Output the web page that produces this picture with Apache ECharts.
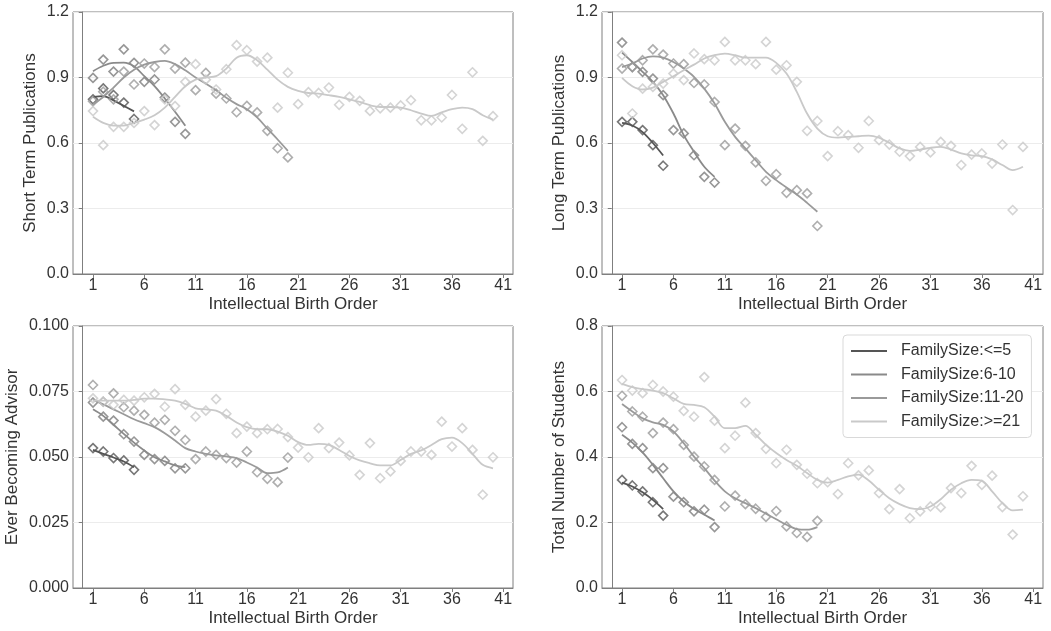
<!DOCTYPE html>
<html><head><meta charset="utf-8">
<script src="https://cdn.jsdelivr.net/npm/echarts@6/dist/echarts.min.js"></script>
<style>html,body{margin:0;padding:0;background:#fff}#c{width:1051px;height:631px}</style>
</head><body><div id="c"></div>
<script>
// Intellectual birth order positions
const ORDER = [1,2,3,4,5,6,7,8,9,10,11,12,13,14,15,16,17,18,19,20,21,22,23,24,25,26,27,28,29,30,31,32,33,34,35,36,37,38,39,40];
const X_TICKS = [1,6,11,16,21,26,31,36,41];
const FAMILIES = ['FamilySize:<=5','FamilySize:6-10','FamilySize:11-20','FamilySize:>=21'];
const PANEL_TITLES = ['Short Term Publications','Long Term Publications','Ever Becoming Advisor','Total Number of Students'];
const X_TITLE = 'Intellectual Birth Order';
const Y_TICKS_STP = [0,0.3,0.6,0.9,1.2];
const Y_TICKS_LTP = [0,0.3,0.6,0.9,1.2];
const Y_TICKS_EBA = [0,0.025,0.05,0.075,0.1];
const Y_TICKS_TNS = [0,0.2,0.4,0.6,0.8];

// Short term publications
const stp_pts_5  = [0.80,0.85,0.82,0.785,0.71];
const stp_fit_5  = [0.81,0.815,0.795,0.77,0.745];
const stp_pts_10 = [0.898,0.982,0.927,1.029,0.967,0.880,0.891,0.808,0.697,0.642];
const stp_fit_10 = [0.929,0.954,0.967,0.968,0.951,0.906,0.86,0.804,0.743,0.679];
const stp_pts_20 = [0.791,0.835,0.80,0.927,0.868,0.964,0.948,1.029,0.941,0.968,0.842,0.921,0.826,0.804,0.741,0.770,0.740,0.656,0.576,0.534];
const stp_fit_20 = [0.778,0.811,0.854,0.9,0.936,0.959,0.971,0.976,0.961,0.933,0.9,0.872,0.842,0.807,0.778,0.755,0.717,0.666,0.616,0.564];
const stp_pts_21 = [0.746,0.590,0.674,0.674,0.692,0.746,0.682,0.80,0.769,0.880,0.961,0.89,0.845,0.938,1.048,1.025,0.973,0.991,0.762,0.922,0.778,0.833,0.829,0.854,0.775,0.811,0.793,0.747,0.759,0.762,0.772,0.796,0.704,0.704,0.717,0.820,0.665,0.924,0.610,0.723];
const stp_fit_21 = [0.72,0.692,0.680,0.68,0.692,0.707,0.727,0.762,0.811,0.86,0.89,0.9,0.906,0.941,0.991,1.002,0.979,0.936,0.89,0.857,0.839,0.829,0.826,0.819,0.811,0.80,0.788,0.773,0.765,0.765,0.762,0.750,0.735,0.724,0.740,0.755,0.762,0.755,0.727,0.707];

// Long term publications
const ltp_pts_5  = [0.697,0.697,0.659,0.590,0.496];
const ltp_fit_5  = [0.692,0.68,0.65,0.60,0.543];
const ltp_pts_10 = [1.060,0.948,0.926,0.895,0.819,0.659,0.644,0.544,0.445,0.419];
const ltp_fit_10 = [1.014,0.971,0.926,0.88,0.819,0.735,0.636,0.56,0.491,0.445];
const ltp_pts_20 = [0.941,0.948,0.979,1.029,1.005,0.964,0.961,0.875,0.868,0.788,0.590,0.666,0.587,0.511,0.427,0.457,0.372,0.384,0.369,0.220];
const ltp_fit_20 = [0.948,0.964,0.987,0.997,0.991,0.971,0.941,0.903,0.849,0.781,0.697,0.628,0.575,0.521,0.468,0.43,0.396,0.364,0.326,0.285];
const ltp_pts_21 = [1.002,0.735,0.849,0.857,0.872,0.918,0.888,1.010,0.984,0.979,1.063,0.979,0.979,0.961,1.063,0.936,0.956,0.880,0.656,0.701,0.540,0.654,0.636,0.578,0.701,0.613,0.593,0.560,0.540,0.582,0.557,0.605,0.587,0.499,0.547,0.552,0.506,0.593,0.293,0.582];
const ltp_fit_21 = [0.898,0.86,0.845,0.854,0.88,0.906,0.933,0.959,0.987,1.002,1.009,1.002,0.991,0.991,0.991,0.967,0.918,0.834,0.735,0.666,0.631,0.625,0.628,0.631,0.634,0.624,0.601,0.575,0.564,0.570,0.578,0.582,0.570,0.552,0.543,0.540,0.525,0.499,0.476,0.491];

// Ever becoming advisor
const eba_pts_5  = [0.0534,0.0521,0.0496,0.0487,0.0451];
const eba_fit_5  = [0.0527,0.0512,0.0498,0.0483,0.0461];
const eba_pts_10 = [0.0708,0.0654,0.0639,0.0587,0.0559,0.0508,0.0492,0.0485,0.0457,0.0457];
const eba_fit_10 = [0.0682,0.0657,0.0623,0.0588,0.0555,0.0525,0.0499,0.0483,0.0468,0.0461];
const eba_pts_20 = [0.0775,0.0711,0.0743,0.069,0.0677,0.0661,0.0631,0.0642,0.060,0.0565,0.0492,0.0521,0.0508,0.0496,0.0479,0.0521,0.0442,0.0417,0.0404,0.0498];
const eba_fit_20 = [0.0718,0.0701,0.0682,0.0663,0.0644,0.0629,0.0614,0.0591,0.0563,0.0534,0.0521,0.0512,0.0506,0.0502,0.0496,0.0479,0.046,0.0438,0.0441,0.046];
const eba_pts_21 = [0.0724,0.0711,0.0699,0.0718,0.0715,0.0728,0.0741,0.0692,0.0759,0.0699,0.0654,0.0677,0.0721,0.0665,0.0591,0.0616,0.0591,0.0606,0.0607,0.0576,0.0536,0.0499,0.061,0.0534,0.0555,0.0506,0.0432,0.0553,0.0419,0.0445,0.0485,0.0521,0.0521,0.0508,0.0635,0.054,0.061,0.0527,0.0356,0.0499];
const eba_fit_21 = [0.0715,0.0715,0.0715,0.0715,0.0718,0.0723,0.0723,0.072,0.0715,0.0703,0.0686,0.0682,0.0677,0.0657,0.0632,0.0614,0.0606,0.0606,0.0597,0.0581,0.0557,0.0546,0.055,0.0546,0.0527,0.0504,0.0487,0.0476,0.0468,0.0468,0.0489,0.0512,0.0525,0.0546,0.0568,0.0574,0.0553,0.0512,0.047,0.0457];

// Total number of students
const tns_pts_5  = [0.330,0.313,0.295,0.262,0.221];
const tns_fit_5  = [0.322,0.310,0.292,0.269,0.241];
const tns_pts_10 = [0.491,0.440,0.427,0.366,0.366,0.279,0.262,0.234,0.239,0.186];
const tns_fit_10 = [0.468,0.444,0.414,0.376,0.335,0.295,0.264,0.241,0.224,0.206];
const tns_pts_20 = [0.587,0.539,0.523,0.473,0.505,0.485,0.437,0.401,0.371,0.330,0.249,0.282,0.256,0.242,0.217,0.235,0.188,0.168,0.156,0.205];
const tns_fit_20 = [0.562,0.539,0.518,0.506,0.498,0.478,0.442,0.401,0.366,0.328,0.295,0.274,0.259,0.244,0.227,0.210,0.193,0.180,0.178,0.186];
const tns_pts_21 = [0.635,0.603,0.595,0.620,0.600,0.584,0.541,0.523,0.644,0.511,0.427,0.465,0.566,0.473,0.425,0.381,0.422,0.376,0.349,0.320,0.323,0.287,0.381,0.344,0.359,0.290,0.241,0.302,0.213,0.234,0.249,0.246,0.305,0.290,0.373,0.315,0.343,0.247,0.163,0.280];
const tns_fit_21 = [0.623,0.613,0.607,0.603,0.595,0.579,0.562,0.559,0.552,0.523,0.488,0.488,0.495,0.468,0.437,0.412,0.391,0.373,0.351,0.330,0.322,0.330,0.341,0.346,0.328,0.300,0.274,0.256,0.244,0.241,0.249,0.271,0.300,0.320,0.330,0.327,0.295,0.259,0.237,0.239];

const PANELS = [
  {pts:[stp_pts_5,stp_pts_10,stp_pts_20,stp_pts_21], fit:[stp_fit_5,stp_fit_10,stp_fit_20,stp_fit_21], ticks:Y_TICKS_STP, dec:1},
  {pts:[ltp_pts_5,ltp_pts_10,ltp_pts_20,ltp_pts_21], fit:[ltp_fit_5,ltp_fit_10,ltp_fit_20,ltp_fit_21], ticks:Y_TICKS_LTP, dec:1},
  {pts:[eba_pts_5,eba_pts_10,eba_pts_20,eba_pts_21], fit:[eba_fit_5,eba_fit_10,eba_fit_20,eba_fit_21], ticks:Y_TICKS_EBA, dec:3},
  {pts:[tns_pts_5,tns_pts_10,tns_pts_20,tns_pts_21], fit:[tns_fit_5,tns_fit_10,tns_fit_20,tns_fit_21], ticks:Y_TICKS_TNS, dec:1}
];

const COLORS = ['#555555','#7d7d7d','#9a9a9a','#c9c9c9'];
const LINE_COLORS = ['#555555','#8a8a8a','#9a9a9a','#c9c9c9'];
const FONT = 'Liberation Sans, Arial, sans-serif';
const TXT = '#333333';
const AXC = '#7f7f7f';

const GRIDS = [
  {left:73, top:12, width:440, height:262},
  {left:602, top:12, width:441, height:262},
  {left:73, top:326, width:440, height:262},
  {left:602, top:326, width:441, height:262}
];
const Y_NAME_GAP = [34, 34, 52, 34];

const grid = GRIDS.map(g => Object.assign({show:true, borderColor:AXC, borderWidth:1, backgroundColor:'transparent'}, g));
const xAxis = [], yAxis = [], series = [];
PANELS.forEach((p, i) => {
  xAxis.push({
    type:'value', gridIndex:i, min:-0.95, max:41.95,
    name:X_TITLE, nameLocation:'middle', nameGap:22,
    nameTextStyle:{fontFamily:FONT, fontSize:17, color:TXT},
    axisLine:{show:true, lineStyle:{color:AXC, width:1}},
    axisTick:{show:true, length:4, lineStyle:{color:AXC}, customValues:X_TICKS},
    axisLabel:{fontFamily:FONT, fontSize:16, color:TXT, margin:4, customValues:X_TICKS},
    splitLine:{show:false}
  });
  const t = p.ticks;
  yAxis.push({
    type:'value', gridIndex:i, min:t[0], max:t[t.length-1], interval:t[1]-t[0],
    name:PANEL_TITLES[i], nameLocation:'middle', nameGap:Y_NAME_GAP[i], nameRotate:90,
    nameTextStyle:{fontFamily:FONT, fontSize:17, color:TXT},
    axisLine:{show:true, lineStyle:{color:AXC, width:1}},
    axisTick:{show:true, length:4, lineStyle:{color:AXC}},
    axisLabel:{fontFamily:FONT, fontSize:16, color:TXT, margin:4, formatter:v => v.toFixed(p.dec)},
    splitLine:{show:true, lineStyle:{color:'#ececec', width:1}}
  });
  FAMILIES.forEach((fam, k) => {
    const pts = p.pts[k], fit = p.fit[k];
    series.push({
      type:'scatter', name:'pts '+fam, xAxisIndex:i, yAxisIndex:i,
      data: pts.map((v, j) => [ORDER[j], v]),
      symbol:'diamond', symbolSize:[9,9],
      itemStyle:{color:'rgba(255,255,255,0)', borderColor:COLORS[k], borderWidth:1.6},
      z: 2 + k, silent:true
    });
    series.push({
      type:'line', name:fam, xAxisIndex:i, yAxisIndex:i,
      data: fit.map((v, j) => [ORDER[j], v]),
      smooth:0.35, showSymbol:false, symbol:'none',
      lineStyle:{color:LINE_COLORS[k], width:1.8},
      itemStyle:{color:LINE_COLORS[k]},
      z: 3 + k, silent:true
    });
  });
});

const chart = echarts.init(document.getElementById('c'), null, {renderer:'canvas'});
chart.setOption({
  animation:false,
  backgroundColor:'#ffffff',
  grid, xAxis, yAxis, series,
  legend:{
    data: FAMILIES.map(n => ({name:n, icon:'rect'})),
    orient:'vertical', left:843, top:335,
    itemWidth:36, itemHeight:2, itemGap:3.5,
    padding:[6,8,6,8],
    borderColor:'#d9d9d9', borderWidth:1, borderRadius:4, backgroundColor:'#ffffff',
    textStyle:{fontFamily:FONT, fontSize:16, color:TXT, lineHeight:20, padding:[0,0,0,9]},
    selectedMode:false
  }
});
</script></body></html>
